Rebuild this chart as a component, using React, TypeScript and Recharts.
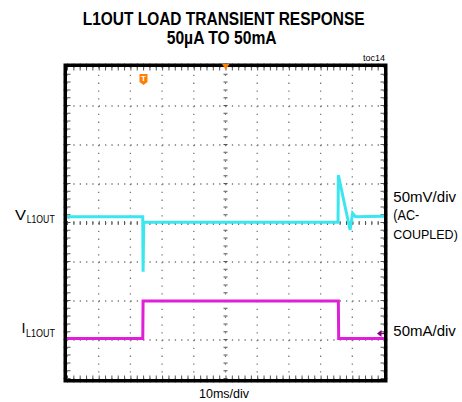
import React from "react";
import { LineChart, Line, XAxis, YAxis, CartesianGrid, ReferenceLine } from "recharts";

// time in ms (10ms/div, 10 div), level in divisions from bottom (8 div)
const vTime = [0, 23.9, 24.0, 24.2, 85.5, 85.6, 89.3, 90.1, 91.0, 100];
const vLevel = [4.16, 4.16, 2.75, 4.02, 4.02, 5.23, 3.82, 4.25, 4.16, 4.17];
const iTime = [0, 23.9, 24.0, 85.6, 85.7, 100];
const iLevel = [1.04, 1.04, 2.0, 2.0, 1.04, 1.04];

const timeTicks = [0, 10, 20, 30, 40, 50, 60, 70, 80, 90, 100];
const levelTicks = [0, 1, 2, 3, 4, 5, 6, 7, 8];

const vData = vTime.map((t, i) => ({ t, v: vLevel[i] }));
const iData = iTime.map((t, i) => ({ t, v: iLevel[i] }));

const W = 462;
const H = 402;
const M = { top: 67, left: 67, right: 78, bottom: 23 };
const plotW = W - M.left - M.right;
const plotH = H - M.top - M.bottom;
const hStep = plotW / 50;
const vStep = plotH / 40;

const CYAN = "#3CE6EE";
const MAGENTA = "#E020D8";
const font = "'Liberation Sans', Arial, sans-serif";

const Label = ({ x, y, size, w, bold, children }: any) => (
  <text x={x} y={y} fontSize={size} fontWeight={bold ? "bold" : "normal"} fontFamily={font}
    textLength={w} lengthAdjust="spacingAndGlyphs">{children}</text>
);

const App = () => {
  return (
    <div style={{ position: "absolute", left: 0, top: 0, width: W, height: H, background: "#fff" }}>
      <LineChart width={W} height={H} margin={M}>
        <XAxis type="number" dataKey="t" domain={[0, 100]} ticks={timeTicks} hide />
        <YAxis type="number" dataKey="v" domain={[0, 8]} ticks={levelTicks} hide />
        <CartesianGrid horizontal={true} vertical={false} stroke="#777" strokeWidth={1.3} strokeDasharray={`1.3 ${hStep - 1.3}`} />
        <CartesianGrid horizontal={false} vertical={true} stroke="#777" strokeWidth={1.3} strokeDasharray={`1.3 ${vStep - 1.3}`} />
        <ReferenceLine y={4} stroke="#555" strokeWidth={4} strokeDasharray={`1 ${hStep - 1}`} />
        <ReferenceLine x={50} stroke="#555" strokeWidth={4} strokeDasharray={`1 ${vStep - 1}`} />
        <ReferenceLine y={8} stroke="#555" strokeWidth={7} strokeDasharray={`1 ${hStep - 1}`} />
        <ReferenceLine y={0} stroke="#555" strokeWidth={7} strokeDasharray={`1 ${hStep - 1}`} />
        <ReferenceLine x={0} stroke="#555" strokeWidth={7} strokeDasharray={`1 ${vStep - 1}`} />
        <ReferenceLine x={100} stroke="#555" strokeWidth={7} strokeDasharray={`1 ${vStep - 1}`} />
        <Line data={vData} dataKey="v" type="linear" stroke={CYAN} strokeWidth={3} dot={false} isAnimationActive={false} />
        <Line data={iData} dataKey="v" type="linear" stroke={MAGENTA} strokeWidth={3} dot={false} isAnimationActive={false} />
      </LineChart>
      <svg width={W} height={H} style={{ position: "absolute", left: 0, top: 0, pointerEvents: "none" }}>
        <rect x={65.25} y={65.25} width={320.5} height={315.5} fill="none" stroke="#000" strokeWidth={3.5} />
        {/* markers */}
        <polygon points="222,64 229.5,64 225.7,69.5" fill="#FF7F00" />
        <path d="M139.5,74 h8 v8 l-4,3 l-4,-3 z" fill="#FF7F00" />
        <text x={143.5} y={81} fontSize={8} fontWeight="bold" fill="#fff" textAnchor="middle" fontFamily={font}>T</text>
        <rect x={67} y={215.5} width={3} height={3} fill={CYAN} />
        <rect x={67} y={337} width={3} height={3} fill={MAGENTA} />
        <polygon points="377,333.5 381.5,330 381.5,337" fill="#800080" />
        <rect x={380} y={332.8} width={4} height={1.4} fill="#800080" />
        {/* title */}
        <Label x={82.7} y={25} size={17.5} w={282} bold>L1OUT LOAD TRANSIENT RESPONSE</Label>
        <Label x={166.7} y={43.5} size={17.5} w={110} bold>50µA TO 50mA</Label>
        <Label x={363} y={61} size={9} w={22}>toc14</Label>
        {/* left labels */}
        <Label x={15} y={220} size={15} w={11}>V</Label>
        <Label x={26.7} y={222.5} size={10.5} w={28}>L1OUT</Label>
        <Label x={21.5} y={332.7} size={15} w={4}>I</Label>
        <Label x={26} y={337} size={10.5} w={29}>L1OUT</Label>
        {/* right labels */}
        <Label x={393.3} y={201.5} size={14} w={62.7}>50mV/div</Label>
        <Label x={393.3} y={220} size={14} w={26}>(AC-</Label>
        <Label x={393.3} y={238.5} size={13} w={64.5}>COUPLED)</Label>
        <Label x={393.3} y={335.5} size={14} w={62.5}>50mA/div</Label>
        <Label x={199} y={397.5} size={12} w={50}>10ms/div</Label>
      </svg>
    </div>
  );
};

export default App;
